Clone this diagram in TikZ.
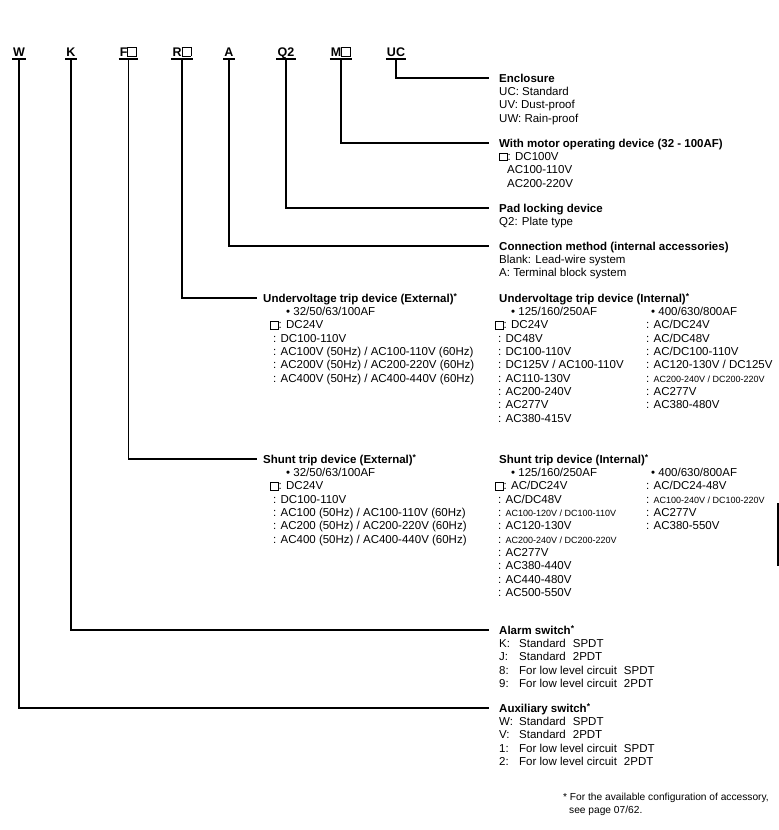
\documentclass[tikz,border=0pt]{standalone}
\usepackage{fontspec}
\setmainfont{Liberation Sans}
\newcommand\sqb[1][0.62em]{{\setlength{\fboxsep}{0pt}\setlength{\fboxrule}{0.7pt}\fbox{\rule{0pt}{#1}\rule{#1}{0pt}}}}
\newcommand\smtxt[1]{{\fontsize{9}{10}\selectfont #1}}
\newcommand\astr{{\fontsize{8.5}{9}\selectfont\raisebox{2.2pt}{*}}}
\tikzset{
  txt/.style={anchor=base west, inner sep=0pt, font=\fontsize{11.5}{13}\selectfont},
  ttl/.style={anchor=base west, inner sep=0pt, font=\fontsize{11.5}{13}\selectfont\bfseries},
  code/.style={anchor=base, inner xsep=1pt, inner ysep=0pt, font=\fontsize{12.5}{14}\selectfont\bfseries},
  wire/.style={line width=1.4pt},
  foot/.style={anchor=base west, inner sep=0pt, font=\fontsize{10.2}{11}\selectfont}
}
\begin{document}
\begin{tikzpicture}[x=1pt,y=-1pt]
\useasboundingbox (0,0) rectangle (779,830);
% codes
\node[code] (cW) at (19,56) {W};
\node[code] (cK) at (71,56) {K};
\node[code] (cF) at (128.5,56) {F\sqb[0.66em]};
\node[code] (cR) at (182,56) {R\sqb[0.66em]};
\node[code] (cA) at (229,56) {A};
\node[code] (cQ) at (286,56) {Q2};
\node[code] (cM) at (341,56) {M\sqb[0.66em]};
\node[code] (cU) at (396,56) {UC};
\foreach \n in {cW,cK,cF,cR,cA,cQ,cM,cU}
  \draw[wire] ([yshift=-3pt]\n.base west) -- ([yshift=-3pt]\n.base east);

% Enclosure
\node[ttl] (tEnc) at (499,82) {Enclosure};
\foreach \t [count=\i] in {UC: Standard,UV: Dust-proof,UW: Rain-proof}
  \node[txt] (enc\i) at (499,{82+13.35*\i}) {\t};
% Motor
\node[ttl] (tMot) at (499,147) {With motor operating device (32 - 100AF)};
\node[txt] (mot1) at (499,160.35) {\sqb: DC100V};
\node[txt] (mot2) at (507,173.7) {AC100-110V};
\node[txt] (mot3) at (507,187.05) {AC200-220V};
% Pad
\node[ttl] (tPad) at (499,212) {Pad locking device};
\node[txt] (pad1) at (499,225.35) {Q2: Plate type};
% Connection
\node[ttl] (tCon) at (499,250) {Connection method (internal accessories)};
\node[txt] (con1) at (499,263.35) {Blank: Lead-wire system};
\node[txt] (con2) at (499,276.7) {A: Terminal block system};

% Undervoltage external
\node[ttl] (tUVe) at (263,302) {Undervoltage trip device (External)\astr};
\node[txt] (uve1) at (286,315.35) {• 32/50/63/100AF};
\node[txt] (uve2) at (270,328.7) {\sqb: DC24V};
\foreach \t [count=\i from 3] in {: DC100-110V,: AC100V (50Hz) / AC100-110V (60Hz),: AC200V (50Hz) / AC200-220V (60Hz),: AC400V (50Hz) / AC400-440V (60Hz)}
  \node[txt] (uve\i) at (273,{302+13.35*\i}) {\t};

% Undervoltage internal
\node[ttl] (tUVi) at (499,302) {Undervoltage trip device (Internal)\astr};
\node[txt] (uvi1) at (511,315.35) {• 125/160/250AF};
\node[txt] (uvi2) at (495,328.7) {\sqb: DC24V};
\foreach \t [count=\i from 3] in {: DC48V,: DC100-110V,: DC125V / AC100-110V,: AC110-130V,: AC200-240V,: AC277V,: AC380-415V}
  \node[txt] (uvi\i) at (498,{302+13.35*\i}) {\t};
\node[txt] (uvr1) at (651,315.35) {• 400/630/800AF};
\foreach \t [count=\i from 2] in {: AC/DC24V,: AC/DC48V,: AC/DC100-110V,: AC120-130V / DC125V,: \smtxt{AC200-240V / DC200-220V},: AC277V,: AC380-480V}
  \node[txt] (uvr\i) at (646,{302+13.35*\i}) {\t};

% Shunt external
\node[ttl] (tSHe) at (263,463) {Shunt trip device (External)\astr};
\node[txt] (she1) at (286,476.35) {• 32/50/63/100AF};
\node[txt] (she2) at (270,489.7) {\sqb: DC24V};
\foreach \t [count=\i from 3] in {: DC100-110V,: AC100 (50Hz) / AC100-110V (60Hz),: AC200 (50Hz) / AC200-220V (60Hz),: AC400 (50Hz) / AC400-440V (60Hz)}
  \node[txt] (she\i) at (273,{463+13.35*\i}) {\t};

% Shunt internal
\node[ttl] (tSHi) at (499,463) {Shunt trip device (Internal)\astr};
\node[txt] (shi1) at (511,476.35) {• 125/160/250AF};
\node[txt] (shi2) at (495,489.7) {\sqb: AC/DC24V};
\foreach \t [count=\i from 3] in {: AC/DC48V,: \smtxt{AC100-120V / DC100-110V},: AC120-130V,: \smtxt{AC200-240V / DC200-220V},: AC277V,: AC380-440V,: AC440-480V,: AC500-550V}
  \node[txt] (shi\i) at (498,{463+13.35*\i}) {\t};
\node[txt] (shr1) at (651,476.35) {• 400/630/800AF};
\foreach \t [count=\i from 2] in {: AC/DC24-48V,: \smtxt{AC100-240V / DC100-220V},: AC277V,: AC380-550V}
  \node[txt] (shr\i) at (646,{463+13.35*\i}) {\t};

% Alarm
\node[ttl] (tAla) at (499,634) {Alarm switch\astr};
\foreach \k/\t [count=\i] in {K:/Standard\hspace{7pt}SPDT,J:/Standard\hspace{7pt}2PDT,8:/For low level circuit\hspace{7pt}SPDT,9:/For low level circuit\hspace{7pt}2PDT}
  \node[txt] (ala\i) at (499,{634+13.35*\i}) {\makebox[20pt][l]{\k}\t};
% Auxiliary
\node[ttl] (tAux) at (499,712) {Auxiliary switch\astr};
\foreach \k/\t [count=\i] in {W:/Standard\hspace{7pt}SPDT,V:/Standard\hspace{7pt}2PDT,1:/For low level circuit\hspace{7pt}SPDT,2:/For low level circuit\hspace{7pt}2PDT}
  \node[txt] (aux\i) at (499,{712+13.35*\i}) {\makebox[20pt][l]{\k}\t};

% footnote
\node[foot] (fn1) at (563,800) {* For the available configuration of accessory,};
\node[foot] (fn2) at (569,813) {see page 07/62.};

% connectors
\draw[wire] ([yshift=-3pt]cU.base) |- ([xshift=-10pt,yshift=4pt]tEnc.base west);
\draw[wire] ([yshift=-3pt]cM.base) |- ([xshift=-10pt,yshift=4pt]tMot.base west);
\draw[wire] ([yshift=-3pt]cQ.base) |- ([xshift=-10pt,yshift=4pt]tPad.base west);
\draw[wire] ([yshift=-3pt]cA.base) |- ([xshift=-10pt,yshift=4pt]tCon.base west);
\draw[wire] ([yshift=-3pt]cR.base) |- ([xshift=-6pt,yshift=4pt]tUVe.base west);
\draw[wire] ([yshift=-3pt]cF.base) |- ([xshift=-6pt,yshift=4pt]tSHe.base west);
\draw[wire] ([yshift=-3pt]cK.base) |- ([xshift=-10pt,yshift=4pt]tAla.base west);
\draw[wire] ([yshift=-3pt]cW.base) |- ([xshift=-10pt,yshift=4pt]tAux.base west);

% edge bar
\fill (776.8,503) rectangle (779,566);
\end{tikzpicture}
\end{document}
